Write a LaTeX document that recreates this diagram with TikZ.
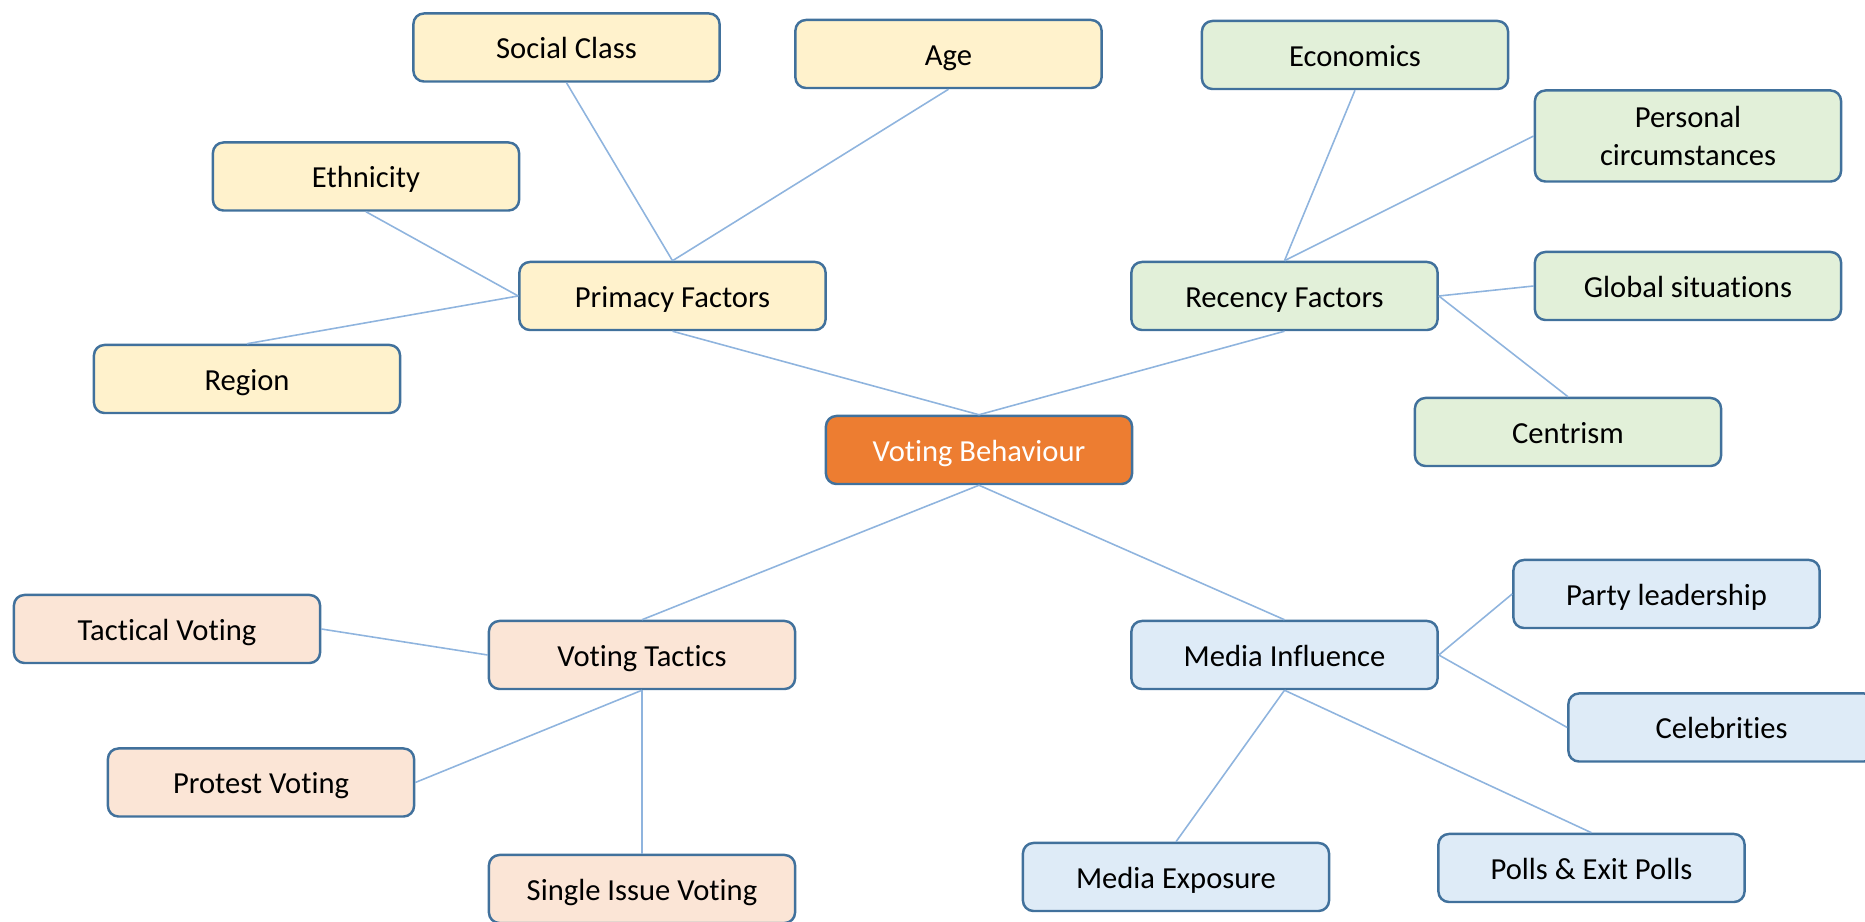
\documentclass[tikz,border=0pt]{standalone}
\usepackage{fontspec}
\setmainfont[Ligatures={NoCommon,NoContextual}]{Carlito}
\definecolor{boxline}{HTML}{41719C}
\definecolor{linkline}{HTML}{8FB4DE}
\definecolor{primfill}{HTML}{FFF2CC}
\definecolor{recfill}{HTML}{E2F0D9}
\definecolor{tacfill}{HTML}{FBE5D6}
\definecolor{medfill}{HTML}{DEEBF7}
\definecolor{corefill}{HTML}{ED7D31}

\begin{document}
\begin{tikzpicture}[x=0.01cm,y=-0.01cm,font=\fontsize{8.7pt}{10.8pt}\selectfont,
  topic/.style={draw=boxline,line width=.7pt,rounded corners=3pt,minimum width=3.06cm,minimum height=0.68cm,inner sep=0pt,align=center,text height=8pt,text depth=1.6pt},
  link/.style={linkline,line width=.45pt}]
\useasboundingbox (0,0) rectangle (1865,922);
\clip (0,0) rectangle (1865,922);
\node[topic,fill=corefill,text=white] (vote) at (979,450) {Voting Behaviour};
\node[topic,fill=primfill] (prim) at (672.5,296) {Primacy Factors};
\node[topic,fill=primfill] (social) at (566.5,47.5) {Social Class};
\node[topic,fill=primfill] (age) at (948.5,54) {Age};
\node[topic,fill=primfill] (ethnic) at (366,176.5) {Ethnicity};
\node[topic,fill=primfill] (region) at (247,379) {Region};
\node[topic,fill=recfill] (rec) at (1284.5,296) {Recency Factors};
\node[topic,fill=recfill] (econ) at (1355,55) {Economics};
\node[topic,fill=recfill,minimum height=0.91cm,text height=,text depth=] (personal) at (1688,136) {Personal\\circumstances};
\node[topic,fill=recfill] (global) at (1688,286) {Global situations};
\node[topic,fill=recfill] (centre) at (1568,432) {Centrism};
\node[topic,fill=tacfill] (tac) at (642,655) {Voting Tactics};
\node[topic,fill=tacfill] (tactical) at (167,629) {Tactical Voting};
\node[topic,fill=tacfill] (protest) at (261,782.5) {Protest Voting};
\node[topic,fill=tacfill] (single) at (642,889) {Single Issue Voting};
\node[topic,fill=medfill] (med) at (1284.5,655) {Media Influence};
\node[topic,fill=medfill] (party) at (1666.5,594) {Party leadership};
\node[topic,fill=medfill] (celeb) at (1721.5,727.5) {Celebrities};
\node[topic,fill=medfill] (polls) at (1591.5,868) {Polls \& Exit Polls};
\node[topic,fill=medfill] (expo) at (1176,877) {Media Exposure};
% links out of the centre
\draw[link] (prim.south) -- (vote.north);
\draw[link] (rec.south) -- (vote.north);
\draw[link] (vote.south) -- (tac.north);
\draw[link] (vote.south) -- (med.north);
% primacy branch
\draw[link] (prim.north) -- (social.south);
\draw[link] (prim.north) -- (age.south);
\draw[link] (prim.west) -- (ethnic.south);
\draw[link] (prim.west) -- (region.north);
% recency branch
\draw[link] (rec.north) -- (econ.south);
\draw[link] (rec.north) -- (personal.west);
\draw[link] (rec.east) -- (global.west);
\draw[link] (rec.east) -- (centre.north);
% tactics branch
\draw[link] (tac.west) -- (tactical.east);
\draw[link] (tac.south) -- (protest.east);
\draw[link] (tac.south) -- (single.north);
% media branch
\draw[link] (med.east) -- (party.west);
\draw[link] (med.east) -- (celeb.west);
\draw[link] (med.south) -- (expo.north);
\draw[link] (med.south) -- (polls.north);
\end{tikzpicture}
\end{document}
